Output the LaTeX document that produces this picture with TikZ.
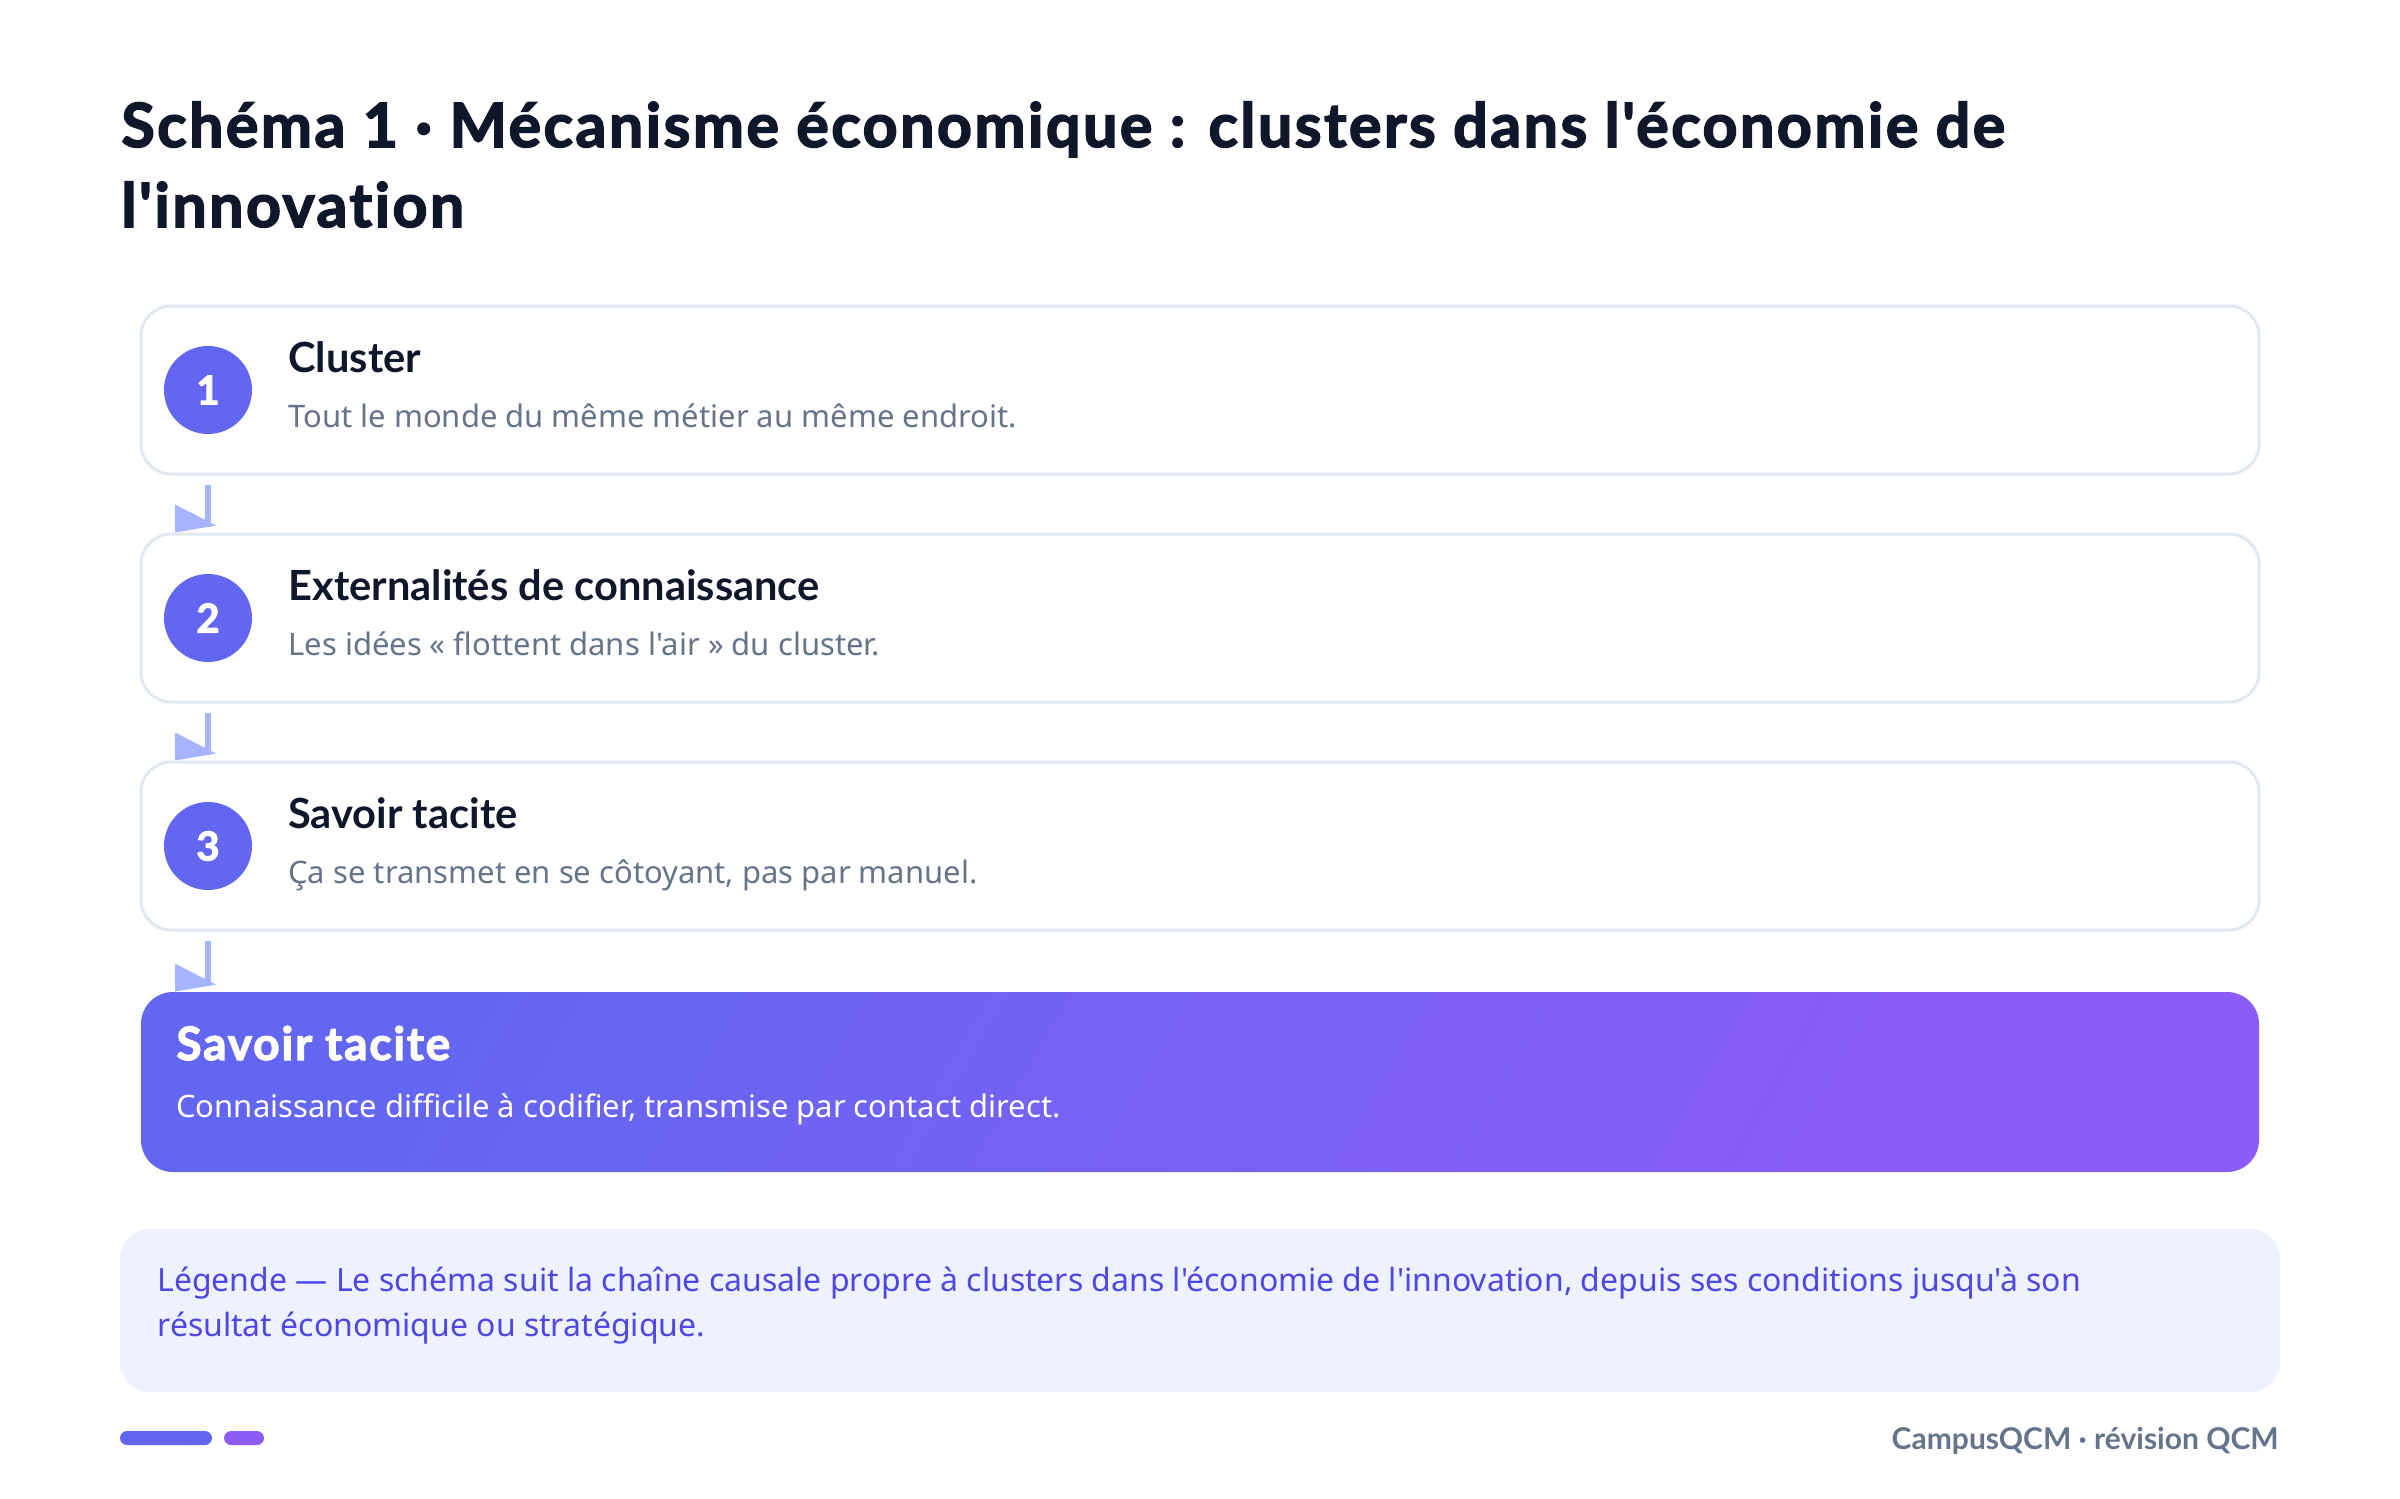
\documentclass[tikz,border=0pt]{standalone}
\usepackage{fontspec}
\newfontfamily\bodyfont{Noto Sans}
\newfontfamily\boldfont[Ligatures=NoCommon]{Lato}
\newfontfamily\heavyfont[Ligatures=NoCommon,BoldFeatures={FakeBold=2.5,LetterSpace=4}]{Lato}
\usetikzlibrary{calc}
\definecolor{ink}{HTML}{0F172A}
\definecolor{muted}{HTML}{64748B}
\definecolor{cardline}{HTML}{E2E8F0}
\definecolor{indigo}{HTML}{6366F1}
\definecolor{violet}{HTML}{8B5CF6}
\definecolor{arrowc}{HTML}{A5B4FC}
\definecolor{legfill}{HTML}{EEF2FF}
\definecolor{legtext}{HTML}{4F46E5}
\tikzset{
  card/.style={draw=cardline, line width=1.5pt, fill=white, rounded corners=15pt,
    minimum width=1059pt, minimum height=84pt, inner sep=0pt},
  badge/.style={circle, fill=indigo, minimum size=44pt, inner sep=0pt, text=white,
    font=\heavyfont\bfseries\fontsize{20}{20}\selectfont},
  cardtitle/.style={anchor=base west, inner sep=0pt, text=ink,
    font=\boldfont\bfseries\fontsize{20.8}{22}\selectfont},
  carddesc/.style={anchor=base west, inner sep=0pt, text=muted,
    font=\bodyfont\fontsize{15.5}{20}\selectfont},
  flowline/.style={draw=arrowc, line width=3pt},
  flowhead/.style={fill=arrowc},
  legline/.style={anchor=base west, inner sep=0pt, text=legtext,
    font=\bodyfont\fontsize{16}{20}\selectfont},
  heading/.style={anchor=base west, inner sep=0pt, text=ink,
    font=\heavyfont\bfseries\fontsize{30.5}{36}\selectfont},
}
\begin{document}
\begin{tikzpicture}[x=0.5pt,y=-0.5pt]
\useasboundingbox (0,0) rectangle (2400,1499);
\fill[white] (0,0) rectangle (2400,1499);

% title
\node[heading] (title1) at (121,147) {Schéma 1 · Mécanisme économique : clusters dans l'économie de};
\node[heading] (title2) at (121,227) {l'innovation};

% cards
\node[card] (b1) at (1200,390) {};
\node[card] (b2) at (1200,618) {};
\node[card] (b3) at (1200,846) {};

\node[badge] (c1) at (208,390) {1};
\node[badge] (c2) at (208,618) {2};
\node[badge] (c3) at (208,846) {3};

\node[cardtitle] (t1) at (288,372) {Cluster};
\node[carddesc] (d1) at (288,427) {Tout le monde du même métier au même endroit.};
\node[cardtitle] (t2) at (288,600) {Externalités de connaissance};
\node[carddesc] (d2) at (288,655) {Les idées « flottent dans l'air » du cluster.};
\node[cardtitle] (t3) at (288,828) {Savoir tacite};
\node[carddesc] (d3) at (288,883) {Ça se transmet en se côtoyant, pas par manuel.};

% result card
\node[rounded corners=16pt, minimum width=1059pt, minimum height=90pt, inner sep=0pt,
  top color=indigo, bottom color=violet, shading angle=60] (b4) at (1200,1082) {};
\node[anchor=base west, inner sep=0pt, text=white, font=\heavyfont\bfseries\fontsize{23}{26}\selectfont]
  (t4) at (176,1060) {Savoir tacite};
\node[anchor=base west, inner sep=0pt, text=white, font=\bodyfont\fontsize{15.5}{20}\selectfont]
  (d4) at (176,1117) {Connaissance difficile à codifier, transmise par contact direct.};

% connectors
\draw[flowline] ($(b1.south -| c1.center)+(0,9)$) -- ($(b2.north -| c1.center)+(0,-6)$);
\fill[flowhead] ($(b2.north -| c1.center)+(-33,-28)$) -- ($(b2.north -| c1.center)+(8,-7)$) -- ($(b2.north -| c1.center)+(-33,0)$) -- cycle;
\draw[flowline] ($(b2.south -| c2.center)+(0,9)$) -- ($(b3.north -| c2.center)+(0,-6)$);
\fill[flowhead] ($(b3.north -| c2.center)+(-33,-28)$) -- ($(b3.north -| c2.center)+(8,-7)$) -- ($(b3.north -| c2.center)+(-33,0)$) -- cycle;
\draw[flowline] ($(b3.south -| c3.center)+(0,9)$) -- ($(b4.north -| c3.center)+(0,-6)$);
\fill[flowhead] ($(b4.north -| c3.center)+(-33,-28)$) -- ($(b4.north -| c3.center)+(8,-7)$) -- ($(b4.north -| c3.center)+(-33,0)$) -- cycle;

% legend
\node[fill=legfill, rounded corners=15pt, minimum width=1080pt, minimum height=81.5pt, inner sep=0pt]
  (leg) at (1200,1310.5) {};
\node[legline] (l1) at (157,1291) {Légende — Le schéma suit la chaîne causale propre à clusters dans l'économie de l'innovation, depuis ses conditions jusqu'à son};
\node[legline] (l2) at (157,1336) {résultat économique ou stratégique.};

% footer
\fill[indigo, rounded corners=3.5pt] (120,1431) rectangle (212,1445);
\fill[violet, rounded corners=3.5pt] (224,1431) rectangle (264,1445);
\node[anchor=base east, inner sep=0pt, text=muted, font=\boldfont\bfseries\fontsize{15}{18}\selectfont]
  (foot) at (2279,1449) {CampusQCM · révision QCM};
\end{tikzpicture}
\end{document}
